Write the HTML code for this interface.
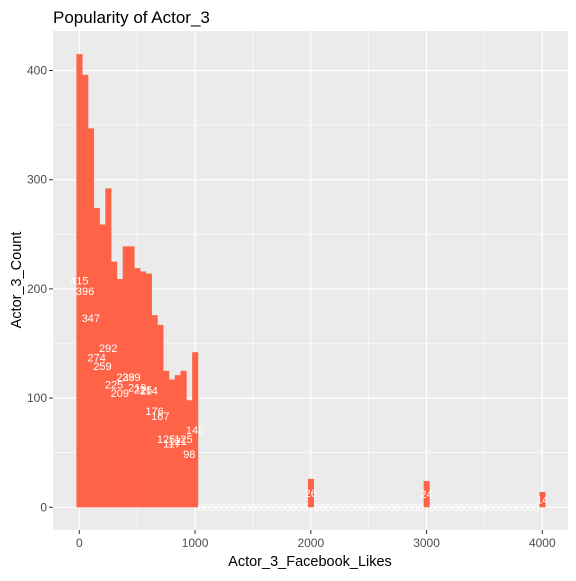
<!DOCTYPE html>
<html><head><meta charset="utf-8"><style>
body{margin:0;background:#fff;}
svg text{font-family:"Liberation Sans",Arial,sans-serif;}
</style></head><body>
<svg id="chart" width="576" height="576" xmlns="http://www.w3.org/2000/svg">
<rect x="53" y="31" width="515" height="499" fill="#ebebeb"/>
<g id="grid"></g>
<g id="bars"></g>
<g id="labels"></g>
<g id="axes"></g>
<text x="53" y="23" font-size="17" fill="#000">Popularity of Actor_3</text>
<text x="310" y="566" font-size="14.5" text-anchor="middle" fill="#000">Actor_3_Facebook_Likes</text>
<text transform="translate(21,280) rotate(-90)" font-size="14.5" text-anchor="middle" fill="#000">Actor_3_Count</text>
</svg>
<script>
const binStarts = [-25,25,75,125,175,225,275,325,375,425,475,525,575,625,675,725,775,825,875,925,975,1975,2975,3975];
const counts = [415,396,347,274,259,292,225,209,239,239,219,216,214,176,167,125,117,121,125,98,142,26,24,14];
const xTicks = [0,1000,2000,3000,4000];
const yTicks = [0,100,200,300,400];
const binWidth = 50;
const xMin = -25, xMax = 4025;

const NS = "http://www.w3.org/2000/svg";
const X = v => 79.3 + v * 0.11575;
const Y = v => 507.3 - v * 1.092;
function mk(tag, attrs, parent){const e=document.createElementNS(NS,tag);for(const k in attrs)e.setAttribute(k,attrs[k]);parent.appendChild(e);return e;}
const grid=document.getElementById('grid'),bars=document.getElementById('bars'),labels=document.getElementById('labels'),axes=document.getElementById('axes');

// minor grid
for(let i=0;i<xTicks.length;i++){
  const mv=xTicks[i]+500; if(X(mv)<568){
  const l=mk('line',{x1:X(mv),x2:X(mv),y1:31,y2:530,stroke:'#fff','stroke-width':0.6},grid);
  
  }
}
const ml=mk('line',{x1:X(-500),x2:X(-500),y1:31,y2:530,stroke:'#fff','stroke-width':0.6},grid);
for(let i=0;i<yTicks.length;i++){
  const mv=yTicks[i]+50;
  const l=mk('line',{x1:53,x2:568,y1:Y(mv),y2:Y(mv),stroke:'#fff','stroke-width':0.6},grid);
  
  
}
xTicks.forEach(v=>{
  const l=mk('line',{x1:X(v),x2:X(v),y1:31,y2:530,stroke:'#fff','stroke-width':1.2},grid);
  
  
  const t=mk('line',{x1:X(v),x2:X(v),y1:530,y2:534,stroke:'#333','stroke-width':1},axes);
  
  
  const tx=mk('text',{x:X(v),y:547,'font-size':12,'text-anchor':'middle',fill:'#4d4d4d'},axes);
  tx.textContent=v;
  
  
});
yTicks.forEach(v=>{
  const l=mk('line',{x1:53,x2:568,y1:Y(v),y2:Y(v),stroke:'#fff','stroke-width':1.2},grid);
  
  
  const t=mk('line',{x1:49,x2:53,y1:Y(v),y2:Y(v),stroke:'#333','stroke-width':1},axes);
  
  
  const tx=mk('text',{x:47,y:Y(v)+4,'font-size':12,'text-anchor':'end',fill:'#4d4d4d'},axes);
  tx.textContent=v;
  
  
});
// bars
const nonzero={};
binStarts.forEach((s,i)=>{
  nonzero[s]=counts[i];
  const r=mk('rect',{x:X(s),y:Y(counts[i]),width:X(s+binWidth)-X(s)+0.3,height:Y(0)-Y(counts[i]),fill:'#ff6347'},bars);
  
  
});
// labels for all bins
for(let s=xMin;s<xMax;s+=binWidth){
  const c=nonzero[s]||0;
  const t=mk('text',{x:X(s+binWidth/2),y:Y(c/2)+4,'font-size':11,'text-anchor':'middle',fill:'#fff'},labels);
  t.textContent=c;
  
  
}
</script>
</body></html>
